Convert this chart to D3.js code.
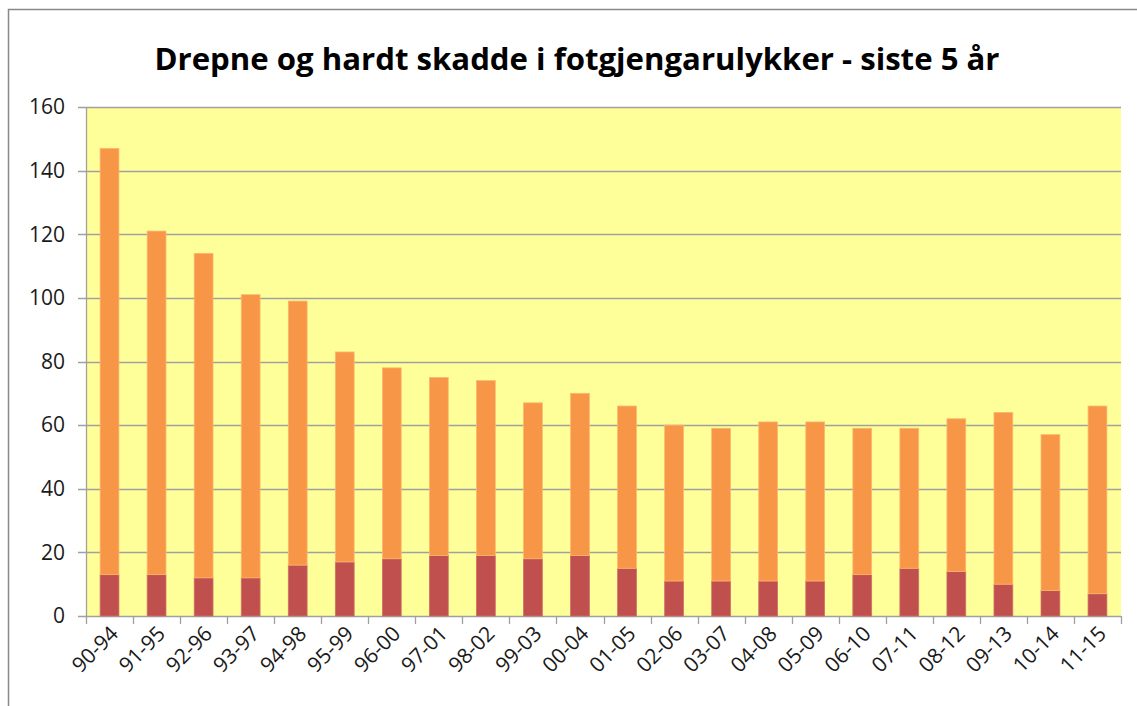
<!DOCTYPE html>
<html>
<head>
<meta charset="utf-8">
<script src="https://cdn.jsdelivr.net/npm/d3@7"></script>
<style>
  body { margin: 0; background: #ffffff; }
  svg { display: block; font-family: "Open Sans", "Noto Sans", sans-serif; }
  .tick-label { font-size: 21px; fill: #1a1a1a; }
  .title { font-size: 30.5px; font-weight: bold; fill: #000; }
</style>
</head>
<body>
<svg id="chart" width="1137" height="706"></svg>
<script>
const WIDTH = 1137;
const HEIGHT = 706;

// femårsperioder
const PERIODS = ["90-94", "91-95", "92-96", "93-97", "94-98", "95-99", "96-00", "97-01", "98-02", "99-03",
  "00-04", "01-05", "02-06", "03-07", "04-08", "05-09", "06-10", "07-11", "08-12", "09-13", "10-14", "11-15"];
const KILLED = [13, 13, 12, 12, 16, 17, 18, 19, 19, 18, 19, 15, 11, 11, 11, 11, 13, 15, 14, 10, 8, 7];
const SEVERE = [134, 108, 102, 89, 83, 66, 60, 56, 55, 49, 51, 51, 49, 48, 50, 50, 46, 44, 48, 54, 49, 59];
const Y_TICKS = [0, 20, 40, 60, 80, 100, 120, 140, 160];

const COLORS = {
  killed: "#c0504d",
  severe: "#f79646",
  plot: "#ffff99",
  grid: "#a0a0a0"
};

const margin = { left: 86, right: 16, top: 107, bottom: 90 };
const plotW = WIDTH - margin.left - margin.right;
const plotH = HEIGHT - margin.top - margin.bottom;

const svg = d3.select("#chart");

// ytre ramme
svg.append("rect")
  .attr("x", 8.5).attr("y", 9.5)
  .attr("width", WIDTH + 10).attr("height", HEIGHT + 10)
  .attr("fill", "none")
  .attr("stroke", "#888")
  .attr("stroke-width", 1.5);

svg.append("text")
  .attr("class", "title")
  .attr("x", 577)
  .attr("y", 70)
  .attr("text-anchor", "middle")
  .attr("textLength", 845)
  .attr("lengthAdjust", "spacingAndGlyphs")
  .text("Drepne og hardt skadde i fotgjengarulykker - siste 5 år");

const x = d3.scaleBand().domain(PERIODS).range([0, plotW]).paddingInner(0.6).paddingOuter(0.3);
const y = d3.scaleLinear().domain([0, 160]).range([plotH, 0]);

const g = svg.append("g").attr("transform", `translate(${margin.left},${margin.top})`);

g.append("rect")
  .attr("width", plotW).attr("height", plotH)
  .attr("fill", COLORS.plot);

g.selectAll("line.grid")
  .data(Y_TICKS)
  .join("line")
  .attr("class", "grid")
  .attr("x1", -8).attr("x2", plotW)
  .attr("y1", (d) => Math.round(y(d)) + 0.5)
  .attr("y2", (d) => Math.round(y(d)) + 0.5)
  .attr("stroke", COLORS.grid)
  .attr("stroke-width", 1.3);

g.selectAll("text.ylab")
  .data(Y_TICKS)
  .join("text")
  .attr("class", "tick-label ylab")
  .attr("x", -21)
  .attr("y", (d) => y(d))
  .attr("dy", "0.35em")
  .attr("text-anchor", "end")
  .text((d) => d);

const rows = PERIODS.map((p, i) => ({ period: p, killed: KILLED[i], severe: SEVERE[i] }));
const stacked = d3.stack().keys(["killed", "severe"])(rows);

g.selectAll("g.series")
  .data(stacked)
  .join("g")
  .attr("class", "series")
  .attr("fill", (s) => COLORS[s.key])
  .attr("stroke", (s) => s.key === "severe" ? "#fbb870" : "#d0706a")
  .attr("stroke-width", 0.8)
  .selectAll("rect")
  .data((s) => s)
  .join("rect")
  .attr("x", (d) => x(d.data.period))
  .attr("width", x.bandwidth())
  .attr("y", (d) => y(d[1]))
  .attr("height", (d) => y(d[0]) - y(d[1]));

// akselinjer
g.append("line")
  .attr("x1", 0.5).attr("x2", 0.5)
  .attr("y1", 0).attr("y2", plotH)
  .attr("stroke", COLORS.grid).attr("stroke-width", 1.3);

const bounds = d3.range(PERIODS.length + 1).map((i) => i * plotW / PERIODS.length);
g.selectAll("line.xtick")
  .data(bounds)
  .join("line")
  .attr("class", "xtick")
  .attr("x1", (d) => Math.round(d) + 0.5).attr("x2", (d) => Math.round(d) + 0.5)
  .attr("y1", plotH).attr("y2", plotH + 8)
  .attr("stroke", COLORS.grid).attr("stroke-width", 1.3);

g.selectAll("text.xlab")
  .data(PERIODS)
  .join("text")
  .attr("class", "tick-label xlab")
  .attr("text-anchor", "end")
  .attr("transform", (d) => `translate(${x(d) + x.bandwidth() / 2 + 10},${plotH + 19}) rotate(-45)`)
  .text((d) => d);
</script>
</body>
</html>
